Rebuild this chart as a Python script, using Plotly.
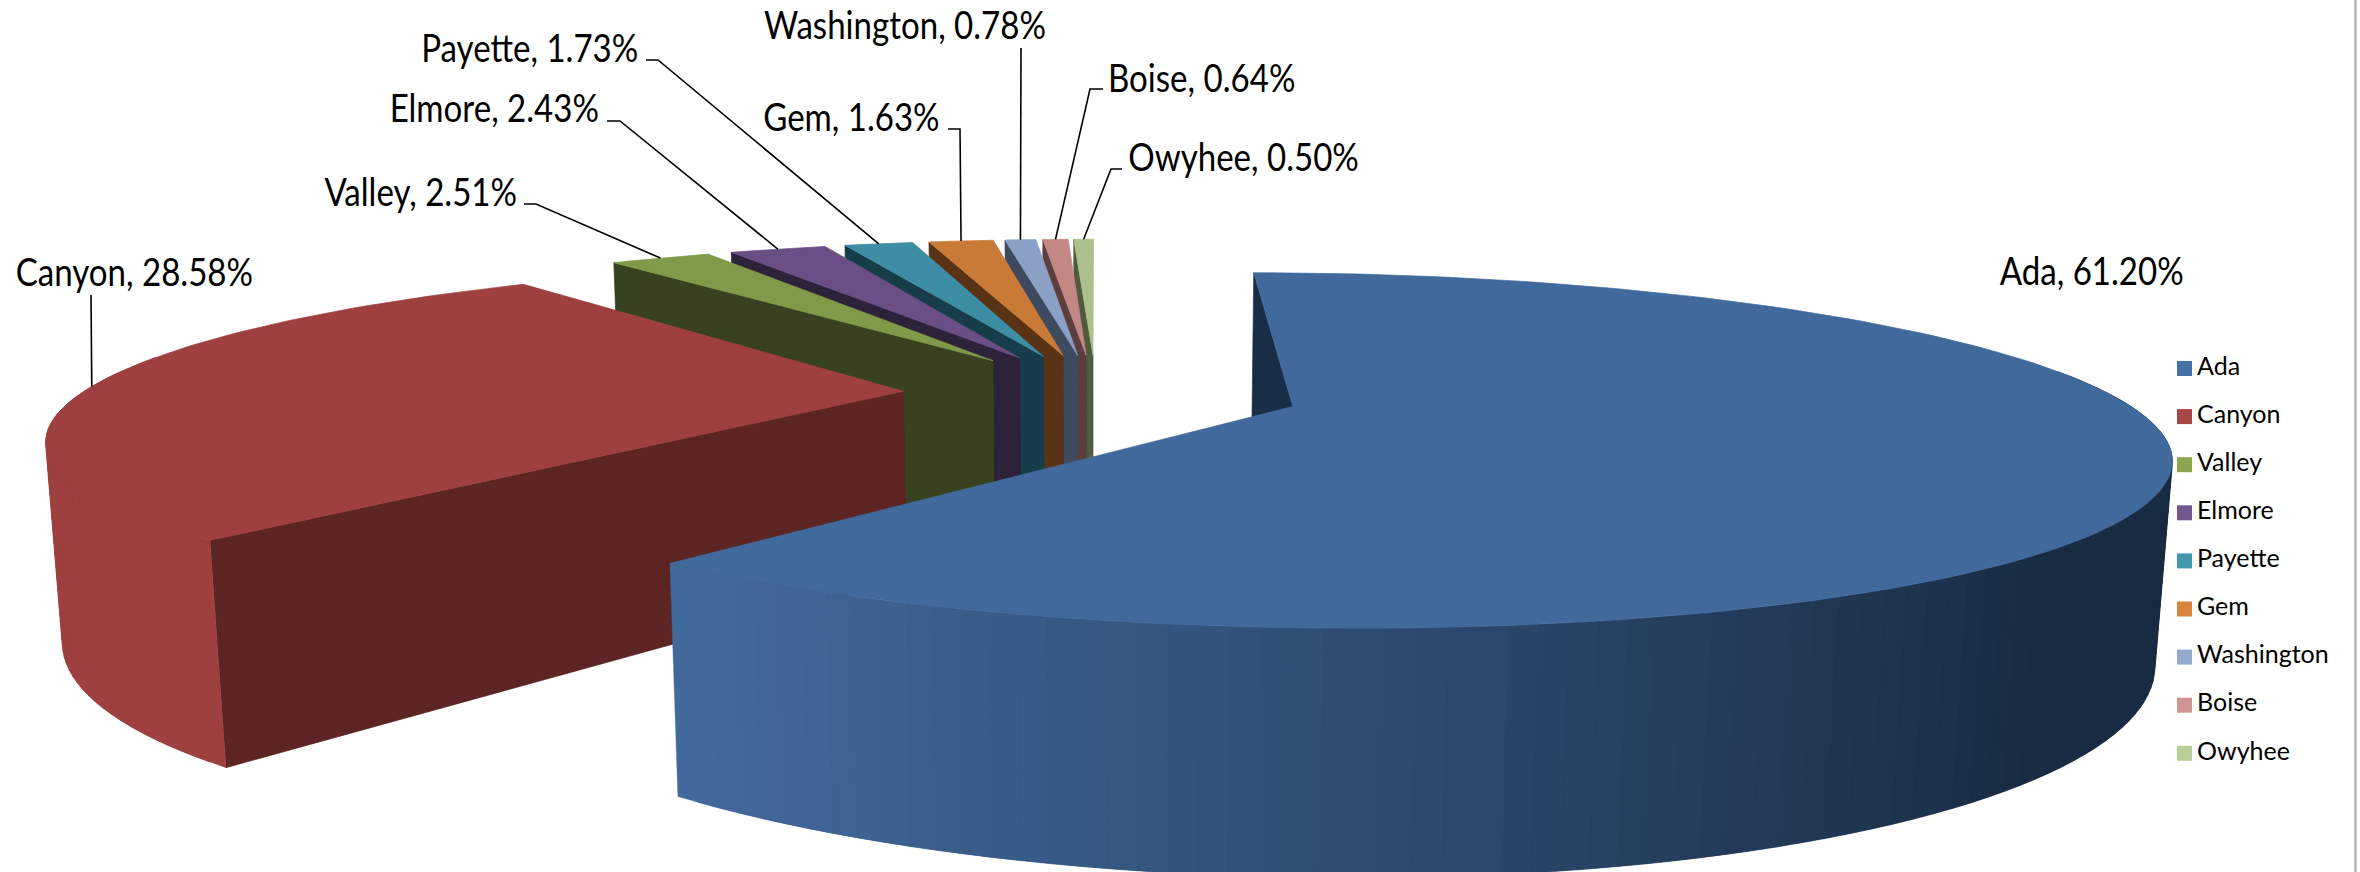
import math
import plotly.graph_objects as go

# ---- data ----
names = ["Ada", "Canyon", "Valley", "Elmore", "Payette", "Gem", "Washington", "Boise", "Owyhee"]
shares = [61.20, 28.58, 2.51, 2.43, 1.73, 1.63, 0.78, 0.64, 0.50]

# ---- styles ----
legend_colors = ["#4572A7", "#AA4643", "#89A54E", "#71588F", "#4198AF", "#DB843D", "#93A9CF", "#D19392", "#B9CD96"]
top_colors = ["#416A9C", "#9D403F", "#7F9A48", "#694F85", "#3D8DA5", "#C97A37", "#8BA0C4", "#C38886", "#ABC08B"]
wall_colors = ["#1A2D47", "#5C2422", "#384220", "#2D2239", "#173D4A", "#5A3317", "#3E4A5F", "#5B3F3E", "#4F5A3F"]
far_colors = ["#192B42", "#9D403F", "#384220", "#2D2239", "#173D4A", "#5A3317", "#3E4A5F", "#5B3F3E", "#4F5A3F"]
explode = [0.25, 0.235, 0.247, 0.247, 0.247, 0.247, 0.247, 0.247, 0.247]

# label text centre (px) and leader path start points (px), from label outward to the slice rim
label_pos = {
    "Ada": (2091, 270), "Canyon": (134, 271), "Valley": (420, 191), "Elmore": (494, 107),
    "Payette": (529, 47), "Gem": (851, 116), "Washington": (905, 24), "Boise": (1201, 77), "Owyhee": (1243, 156),
}
leader_start = {
    "Canyon": [(91, 295)], "Valley": [(524, 204), (536, 204)], "Elmore": [(607, 121), (620, 121)],
    "Payette": [(646, 60), (658, 60)],
    "Gem": [(948, 129), (960, 129)], "Washington": [(1021, 48)],
    "Boise": [(1103, 89), (1090, 89)], "Owyhee": [(1122, 169), (1111, 169)],
}

# ---- camera of the 3-D pie ----
XC, YC, A, B, K, H, M = 1096, 392.5, 821, 160, 0.242, 191.4, 0.015


def project(U, V, z):
    D = 1 + K * V + M * z
    return XC + A * U / D, YC + (-B * V + H * z) / D


def rgb(c):
    return tuple(int(c[i:i + 2], 16) for i in (1, 3, 5))


def lerp(c1, c2, t):
    t = max(0.0, min(1.0, t))
    a, b = rgb(c1), rgb(c2)
    return "rgb(%d,%d,%d)" % tuple(round(a[i] + (b[i] - a[i]) * t) for i in range(3))


fig = go.Figure()


def poly(pts, color, lw=0.7):
    fig.add_trace(go.Scatter(
        x=[p[0] for p in pts] + [pts[0][0]], y=[p[1] for p in pts] + [pts[0][1]],
        mode="lines", fill="toself", fillcolor=color, line=dict(color=color, width=lw),
        showlegend=False, hoverinfo="skip"))


total = sum(shares)
slices = []
cum = 0.0
for name, v, e in zip(names, shares, explode):
    th0 = math.radians(360 * cum / total)
    cum += v
    th1 = math.radians(360 * cum / total)
    mid = (th0 + th1) / 2
    slices.append((th0, th1, mid, e * math.sin(mid), e * math.cos(mid)))

for i in reversed(range(len(names))):
    th0, th1, mid, ou, ov = slices[i]

    def P(theta, z, r=1.0):
        return project(ou + r * math.sin(theta), ov + r * math.cos(theta), z)

    # inner wall on the leading edge
    poly([P(th0, 0, 0), P(th0, 0), P(th0, 1), P(th0, 1, 0)], wall_colors[i])
    # outer wall, facing the viewer only; strips are painted from the far side so they overlap
    n = max(2, int((th1 - th0) / math.radians(1.6)))
    step = (th1 - th0) / n
    order = list(range(n)) if i == 0 else list(reversed(range(n)))
    for k in order:
        a0 = th0 + step * k
        a1 = a0 + step
        if math.cos((a0 + a1) / 2) < 0.2:
            t = (math.sin((a0 + a1) / 2) + 0.647) / 1.33
            lo = max(th0, a0 - step) if i == 0 else a0
            hi = a1 if i == 0 else min(th1, a1 + step)
            arc = [lo, (lo + hi) / 2, hi]
            pts = [P(a, 0) for a in arc] + [P(a, 1) for a in reversed(arc)]
            poly(pts, lerp(top_colors[i], far_colors[i], t), lw=0.3)
    # top face
    m = max(3, int((th1 - th0) / math.radians(1.5)))
    pts = [P(0, 0, 0)] + [P(th0 + (th1 - th0) * k / m, 0) for k in range(m + 1)]
    poly(pts, top_colors[i])

# leader lines
for i, name in enumerate(names):
    if name not in leader_start:
        continue
    th0, th1, mid, ou, ov = slices[i]
    rim = project(ou + math.sin(mid), ov + math.cos(mid), 0)
    path = leader_start[name] + [rim]
    fig.add_trace(go.Scatter(x=[p[0] for p in path], y=[p[1] for p in path], mode="lines",
                             line=dict(color="#000000", width=1.6), showlegend=False, hoverinfo="skip"))

# data labels
for name, v in zip(names, shares):
    fig.add_annotation(x=label_pos[name][0], y=label_pos[name][1], text=f"{name}, {v:.2f}%",
                       showarrow=False, xanchor="center", yanchor="middle",
                       font=dict(family="Lato", size=38, color="#000000"))

# legend column
for i, name in enumerate(names):
    y = 368.5 + 48.1 * i
    fig.add_trace(go.Scatter(x=[2184.5], y=[y], mode="markers", name=name,
                             marker=dict(symbol="square", size=15, color=legend_colors[i], line=dict(width=0)),
                             showlegend=False, hoverinfo="skip"))
    fig.add_trace(go.Scatter(x=[2197], y=[y], mode="text", text=[name], textposition="middle right",
                             textfont=dict(family="Lato", size=25, color="#000000"),
                             showlegend=False, hoverinfo="skip"))

fig.update_layout(
    width=2360, height=872, autosize=False,
    margin=dict(l=0, r=0, t=0, b=0),
    paper_bgcolor="#FFFFFF", plot_bgcolor="#FFFFFF",
    showlegend=False,
    xaxis=dict(range=[0, 2360], visible=False, fixedrange=True),
    yaxis=dict(range=[872, 0], visible=False, fixedrange=True),
    shapes=[dict(type="line", x0=2355.5, x1=2355.5, y0=0, y1=872, xref="x", yref="y",
                 line=dict(color="#A6A6A6", width=2))],
)

# the reference's data labels are horizontally squeezed; condense the glyphs to the same width
condense = """
document.body.style.margin='0';
document.documentElement.style.overflow='hidden';
document.querySelectorAll('text.annotation-text').forEach(function (t) {
  t.setAttribute('textLength', (t.getComputedTextLength() * 0.87).toFixed(1));
  t.setAttribute('lengthAdjust', 'spacingAndGlyphs');
});
"""
fig.write_html("out.html", config={"displayModeBar": False}, post_script=condense)
